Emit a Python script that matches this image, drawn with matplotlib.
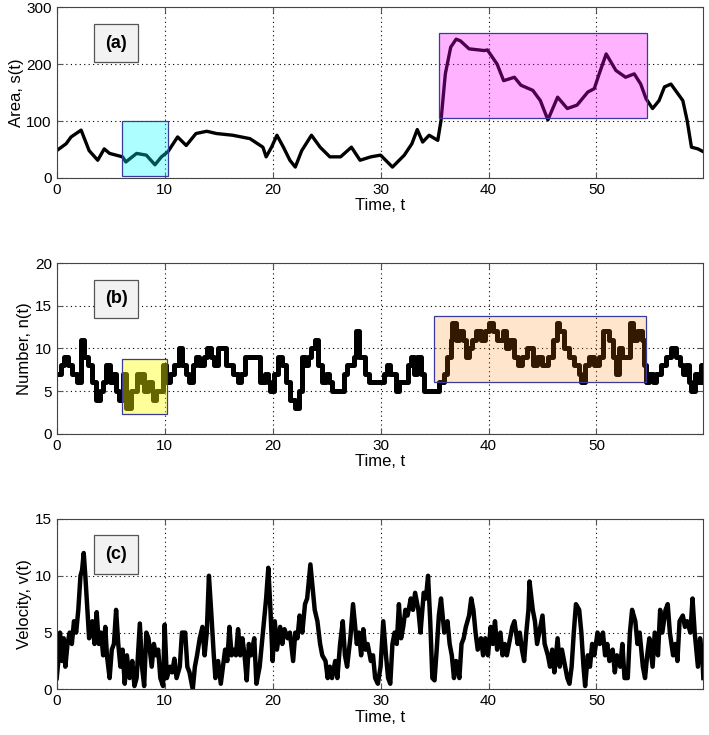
import matplotlib.pyplot as plt
from matplotlib.patches import Rectangle

plt.rcParams['font.family'] = ['Liberation Sans', 'DejaVu Sans']

# (a) area s(t)
area_t = [0, 0.87, 1.33, 2.26, 3.0, 3.8, 4.4, 4.9, 5.5, 6.1, 6.4, 7.4, 8.3, 9.1, 9.7, 10.3,
          11.2, 12.0, 12.9, 13.9, 14.8, 16.3, 17.9, 19.1, 19.4, 19.9, 20.4, 21.0, 21.6, 22.1,
          22.7, 23.6, 24.4, 25.3, 26.3, 27.3, 28.1, 29.1, 30.0, 31.1, 32.2, 32.9, 33.4, 33.9,
          34.5, 35.3, 35.6, 36.0, 36.5, 37.0, 37.4, 38.2, 39.6, 39.9, 40.8, 41.4, 42.4, 43.0,
          44.1, 44.8, 45.5, 46.4, 47.3, 48.2, 49.2, 49.8, 50.2, 50.9, 51.8, 52.7, 53.5, 54.1,
          54.6, 55.2, 55.8, 56.3, 56.9, 58.0, 58.4, 58.8, 59.4, 59.9]
area_v = [48, 60, 72, 84, 48, 31, 51, 43, 40, 37, 28, 43, 40, 23, 37, 46,
          72, 57, 78, 82, 78, 75, 69, 54, 37, 54, 75, 54, 31, 19,
          48, 75, 54, 37, 37, 54, 31, 37, 40, 19, 40, 60, 85, 63,
          75, 66, 101, 183, 230, 244, 241, 227, 224, 225, 200, 171, 177, 163,
          154, 136, 102, 142, 122, 128, 151, 157, 180, 218, 189, 177, 183, 165,
          139, 122, 136, 160, 165, 136, 101, 54, 51, 46]

# (b) number n(t)
num_t = [0, 0.4, 0.7, 1.0, 1.4, 1.85, 2.26, 2.57, 2.9, 3.3, 3.65, 4.0, 4.3, 4.6, 4.9, 5.2,
         5.5, 5.8, 6.1, 6.4, 6.9, 7.2, 7.4, 7.7, 7.8, 7.95, 8.1, 8.5, 8.8, 8.9, 9.2, 9.5,
         9.85, 10.1, 10.5, 10.9, 11.3, 11.6, 12.0, 12.3, 12.6, 12.9, 13.2, 13.6, 13.9, 14.3,
         14.6, 14.95, 15.4, 15.7, 16.0, 16.3, 16.75, 17.1, 17.4, 18.0, 18.5, 18.8, 19.3, 19.6,
         19.8, 20.1, 20.5, 20.9, 21.2, 21.6, 22.1, 22.4, 22.7, 23.0, 23.3, 23.6, 23.9, 24.2,
         24.6, 24.9, 25.2, 25.5, 26.6, 26.9, 27.5, 27.7, 28.0, 28.3, 28.6, 28.9, 30.3, 30.6,
         30.9, 31.4, 31.7, 32.5, 32.8, 33.1, 33.4, 33.7, 34.0, 35.4, 35.9, 36.2, 36.5, 36.6,
         37.0, 37.3, 37.6, 37.9, 38.2, 38.5, 38.8, 39.3, 39.7, 40.0, 40.4, 40.8, 41.3, 41.6,
         41.9, 42.4, 42.7, 43.1, 43.6, 44.1, 44.5, 45.0, 45.5, 46.0, 46.3, 46.5, 47.0, 47.5,
         47.9, 48.4, 48.6, 48.9, 49.3, 49.8, 50.2, 50.6, 51.2, 51.5, 51.8, 52.1, 52.4, 53.1,
         53.4, 53.8, 54.2, 54.4, 54.6, 54.9, 55.2, 55.5, 56.0, 56.4, 56.9, 57.4, 57.7, 58.0,
         58.3, 58.6, 58.8, 59.1, 59.4, 59.7, 59.9]
num_v = [7, 8, 9, 8, 7, 6, 11, 9, 8, 6, 4, 5, 6, 8, 6, 7,
         5, 4, 7, 3, 5, 5, 7, 7, 6, 7, 5, 6, 5, 4, 5, 5,
         8, 6, 7, 8, 10, 8, 7, 6, 8, 9, 8, 9, 10, 9,
         8, 10, 10, 8, 8, 7, 6, 7, 9, 9, 9, 6, 7, 6,
         5, 7, 9, 8, 6, 4, 3, 5, 9, 8, 9, 10, 11, 8,
         6, 7, 6, 5, 7, 8, 9, 12, 9, 9, 7, 6, 7, 8,
         7, 5, 6, 8, 9, 7, 9, 7, 5, 6, 7, 9, 11, 13,
         11, 12, 11, 9, 10, 11, 12, 11, 12, 13, 12, 11, 12, 10,
         11, 9, 8, 9, 10, 8, 9, 8, 9, 11, 13, 12, 10, 9,
         8, 7, 6, 8, 9, 8, 9, 12, 11, 9, 7, 10, 9, 13,
         11, 12, 11, 8, 6, 7, 6, 7, 8, 9, 10, 9, 8, 7,
         8, 6, 5, 7, 6, 8, 6]

# (c) velocity v(t)
vel_t = [0, 0.2, 0.3, 0.5, 0.65, 0.8, 1.0, 1.2, 1.4, 1.6, 1.8, 2.0, 2.2, 2.35, 2.5, 2.65,
         2.9, 3.0, 3.3, 3.5, 3.7, 3.9, 4.1, 4.3, 4.5, 4.65, 4.9, 5.1, 5.3, 5.5, 5.7, 5.9,
         6.1, 6.3, 6.5, 6.75, 7.0, 7.2, 7.4, 7.7, 7.9, 8.1, 8.3, 8.5, 8.8, 9.0, 9.2, 9.4,
         9.6, 9.85, 10.0, 10.2, 10.5, 10.7, 10.9, 11.1, 11.4, 11.6, 11.9, 12.1, 12.3, 12.6,
         12.8, 13.0, 13.25, 13.5, 13.7, 13.9, 14.1, 14.3, 14.55, 14.7, 14.95, 15.2, 15.4, 15.6,
         15.8, 16.0, 16.2, 16.35, 16.6, 16.8, 17.0, 17.2, 17.4, 17.6, 17.8, 18.0, 18.3, 18.5,
         18.8, 19.0, 19.2, 19.4, 19.6, 19.8, 20.0, 20.2, 20.4, 20.7, 20.9, 21.1, 21.4, 21.6,
         21.9, 22.1, 22.3, 22.5, 22.75, 23.0, 23.2, 23.5, 23.7, 23.9, 24.15, 24.4, 24.6, 24.9,
         25.1, 25.3, 25.5, 25.8, 26.0, 26.25, 26.5, 26.7, 26.9, 27.2, 27.45, 27.8, 28.0, 28.2,
         28.4, 28.6, 28.8, 29.1, 29.3, 29.5, 29.75, 30.0, 30.25, 30.5, 30.7, 30.9, 31.1, 31.3,
         31.5, 31.7, 31.9, 32.1, 32.3, 32.5, 32.8, 33.0, 33.2, 33.5, 33.7, 34.0, 34.2, 34.4,
         34.6, 34.8, 35.0, 35.2, 35.4, 35.6, 35.7, 35.9, 36.2, 36.4, 36.6, 36.8, 37.0, 37.3,
         37.5, 37.7, 37.9, 38.2, 38.4, 38.6, 38.8, 39.0, 39.3, 39.5, 39.7, 39.95, 40.2, 40.4,
         40.6, 40.8, 41.1, 41.3, 41.5, 41.7, 42.0, 42.2, 42.4, 42.7, 42.9, 43.1, 43.3, 43.5,
         43.7, 43.8, 44.1, 44.3, 44.5, 44.7, 45.0, 45.2, 45.5, 45.7, 45.9, 46.1, 46.4, 46.6,
         46.8, 47.1, 47.3, 47.5, 47.7, 47.9, 48.1, 48.4, 48.6, 48.8, 48.95, 49.2, 49.4, 49.6,
         49.8, 50.1, 50.3, 50.6, 50.8, 51.0, 51.2, 51.5, 51.7, 51.9, 52.2, 52.4, 52.6, 52.9,
         53.1, 53.3, 53.6, 53.8, 54.0, 54.3, 54.5, 54.7, 54.9, 55.2, 55.4, 55.7, 55.9, 56.1,
         56.4, 56.6, 56.8, 57.1, 57.3, 57.5, 57.7, 58.0, 58.2, 58.4, 58.7, 58.9, 59.1, 59.4,
         59.6, 59.8, 59.9]
vel_v = [1, 3, 5, 2.5, 4.5, 2, 4, 5, 4, 6, 5, 7, 10, 10.5, 12, 10,
         6, 4.5, 6, 4, 6.8, 4, 5, 3, 5.5, 3, 1, 3.5, 4, 7, 4, 2,
         3.5, 0.5, 3, 1, 2.5, 0.3, 1, 5.8, 2, 0.3, 5, 4.5, 2, 4, 3, 3.5,
         1, 0.3, 5.7, 1, 2, 1.5, 2.7, 1, 2, 5, 5, 2, 1.5, 0,
         2, 3, 4.5, 5.5, 3, 5, 10, 7, 3, 1, 2.5, 0.5, 2, 3.5,
         2.5, 5.5, 3, 3.5, 3, 5.3, 3, 4.5, 3, 0.8, 4, 3, 4.5, 0.5,
         2, 4, 6, 8, 10.7, 7, 2.5, 6, 3.5, 5.5, 4, 5.3, 4.5, 5,
         2.5, 5, 4.5, 6.5, 5, 7.5, 8, 11, 9, 7, 6, 4, 3, 2.5,
         1, 2, 1, 2.5, 1, 4, 6, 3, 2, 4.5, 7.5, 4, 5, 3,
         5.3, 3.5, 4, 2.5, 3, 1, 0.5, 2, 6, 3, 1, 0.5, 4, 5,
         4, 7.5, 4.5, 5.5, 7, 6.5, 8, 7, 8.5, 7, 5, 8.5, 8, 10,
         6, 1, 0.8, 3.5, 6.5, 8, 7, 5, 6, 4, 3, 1, 2.5, 1,
         4, 4.5, 5.5, 6.5, 8, 7, 5, 3.5, 4.5, 3, 4.5, 3, 5.5, 4,
         6, 3.5, 5, 3, 4, 3, 4.5, 5.5, 6, 4, 5, 3.5, 2.5, 5,
         7, 9.5, 7, 6, 4, 5, 6.5, 4, 3, 2, 3.5, 1.5, 4.5, 2,
         3.5, 2, 1, 0.5, 2, 5, 7.5, 7, 5, 2, 0.3, 3, 2, 4,
         3, 5, 4, 5, 3, 4, 2.5, 3.5, 1.5, 3, 2, 4, 1, 1,
         5, 7, 6, 4, 5, 2, 1, 3, 4.5, 2, 5, 3, 7, 5,
         7, 7.5, 5, 3, 4, 2.5, 6, 6.5, 5.5, 6, 5, 8, 5, 2,
         4.5, 3, 1]

xticks = [0, 10, 20, 30, 40, 50]
ylabels = ['Area, s(t)', 'Number, n(t)', 'Velocity, v(t)']
ylims = [300, 20, 15]
yticks = [[0, 100, 200, 300], [0, 5, 10, 15, 20], [0, 5, 10, 15]]
tags = ['(a)', '(b)', '(c)']

# highlighted windows: (panel, t0, t1, y0, y1, colour)
boxes = [(0, 6.07, 10.34, 3.5, 100, (0, 1, 1, 0.32)),
         (0, 35.4, 54.7, 105, 255, (1, 0, 1, 0.3)),
         (1, 6.07, 10.2, 2.35, 8.75, (1, 1, 0, 0.4)),
         (1, 34.95, 54.6, 6.1, 13.85, (1, 0.5, 0, 0.2))]

fig = plt.figure(figsize=(7.09, 7.35), dpi=100)
tops = [0.990, 0.642, 0.294]
h = 0.232
axes = []
for i in range(3):
    ax = fig.add_axes([0.080, tops[i] - h, 0.912, h])
    axes.append(ax)

axes[0].plot(area_t, area_v, color='k', lw=2.4)
axes[1].plot(num_t, num_v, color='k', lw=3.6, drawstyle='steps-post')
axes[2].plot(vel_t, vel_v, color='k', lw=3.2)

for p, t0, t1, y0, y1, c in boxes:
    axes[p].add_patch(Rectangle((t0, y0), t1 - t0, y1 - y0, facecolor=c,
                                edgecolor='#3a3a9a', lw=0.9, zorder=5))

for i, ax in enumerate(axes):
    ax.set_xlim(0, 59.9)
    ax.set_ylim(0, ylims[i])
    ax.set_xticks(xticks)
    ax.set_yticks(yticks[i])
    ax.grid(True, color='k', linestyle=(0, (1, 3)), lw=0.8)
    ax.tick_params(direction='in', top=True, right=True, labelsize=11, length=4, color='#555555')
    for s in ax.spines.values():
        s.set_color('#444444')
        s.set_linewidth(0.8)
    ax.set_xlabel('Time, t', fontsize=12, labelpad=1)
    ax.set_ylabel(ylabels[i], fontsize=12, labelpad=2)
    ax.text(5.5, ylims[i] * 0.79, tags[i], fontsize=13, fontweight='bold',
            ha='center', va='center', zorder=6,
            bbox=dict(boxstyle='square,pad=0.6', facecolor='#f2f2f2', edgecolor='#555555', lw=0.9))

fig.savefig('out.png', dpi=100)
